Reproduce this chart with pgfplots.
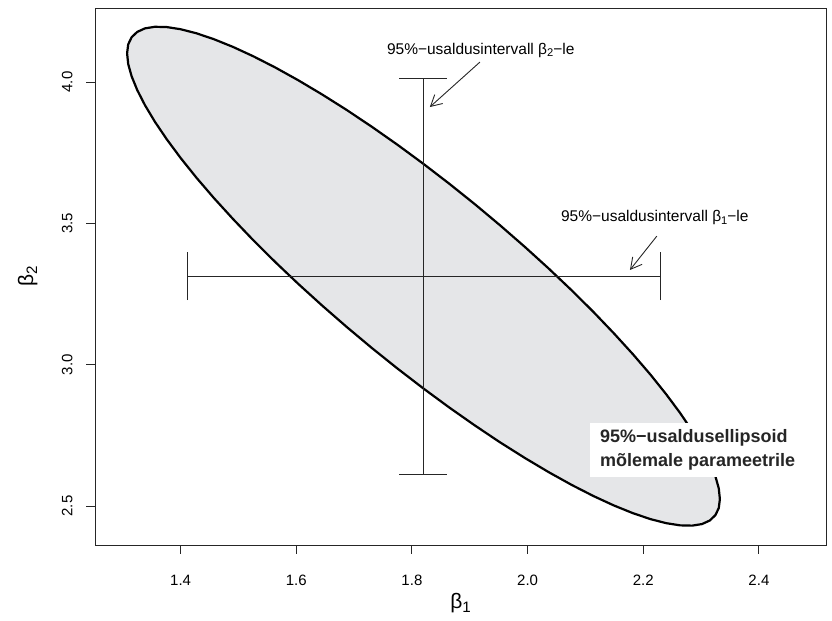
\documentclass[border=0pt]{standalone}
\usepackage{fontspec}
\setmainfont{Liberation Sans}
\usepackage{graphicx}
\usepackage{pgfplots}
\pgfplotsset{compat=1.18}
\usetikzlibrary{arrows.meta}
\definecolor{ellfill}{RGB}{229,230,232}
\newcommand\sub[1]{\raisebox{-0.35ex}{\scalebox{0.72}{#1}}}
\begin{document}
\begin{tikzpicture}
\useasboundingbox (0,0) rectangle (832bp,621bp);
\begin{axis}[
  at={(95bp,76bp)}, anchor=south west,
  scale only axis, width=731bp, height=537bp,
  xmin=1.252, xmax=2.516, ymin=2.362, ymax=4.262,
  xtick={1.4,1.6,1.8,2.0,2.2,2.4},
  xticklabels={1.4,1.6,1.8,2.0,2.2,2.4},
  ytick={2.5,3.0,3.5,4.0},
  yticklabels={2.5,3.0,3.5,4.0},
  tick align=outside, major tick length=9bp,
  xtick pos=left, ytick pos=left,
  axis line style={black!85, line width=0.9bp},
  every tick/.style={black!85, line width=0.9bp},
  tick label style={font=\fontsize{15bp}{17bp}\selectfont},
  xticklabel style={yshift=-18bp},
  yticklabel style={xshift=-10bp, rotate=90, anchor=south},
  xlabel={β\sub{1}},
  ylabel={β\sub{2}},
  label style={font=\fontsize{21bp}{24bp}\selectfont},
  xlabel style={at={(axis description cs:0.5,-0.108)}, anchor=center},
  ylabel style={at={(axis description cs:-0.092,0.5)}, anchor=center},
  clip=false,
]
\addplot[draw=black, line width=2.2bp, fill=ellfill] coordinates {
(2.3325,2.5245) (2.3306,2.5622) (2.3247,2.6055) (2.3150,2.6542)
(2.3016,2.7079) (2.2845,2.7663) (2.2638,2.8289) (2.2398,2.8950)
(2.2126,2.9645) (2.1824,3.0364) (2.1494,3.1105) (2.1140,3.1863)
(2.0763,3.2629) (2.0366,3.3400) (1.9953,3.4167) (1.9526,3.4928)
(1.9090,3.5675) (1.8647,3.6401) (1.8200,3.7104) (1.7753,3.7777)
(1.7310,3.8413) (1.6874,3.9010) (1.6447,3.9561) (1.6034,4.0064)
(1.5637,4.0515) (1.5260,4.0909) (1.4906,4.1243) (1.4576,4.1516)
(1.4274,4.1725) (1.4002,4.1868) (1.3762,4.1945) (1.3555,4.1955)
(1.3384,4.1899) (1.3250,4.1774) (1.3153,4.1585) (1.3094,4.1332)
(1.3075,4.1015) (1.3094,4.0638) (1.3153,4.0205) (1.3250,3.9718)
(1.3384,3.9181) (1.3555,3.8597) (1.3762,3.7971) (1.4002,3.7310)
(1.4274,3.6615) (1.4576,3.5896) (1.4906,3.5155) (1.5260,3.4397)
(1.5637,3.3631) (1.6034,3.2860) (1.6447,3.2093) (1.6874,3.1332)
(1.7310,3.0585) (1.7753,2.9859) (1.8200,2.9156) (1.8647,2.8483)
(1.9090,2.7847) (1.9526,2.7250) (1.9953,2.6699) (2.0366,2.6196)
(2.0763,2.5745) (2.1140,2.5351) (2.1494,2.5017) (2.1824,2.4744)
(2.2126,2.4535) (2.2398,2.4392) (2.2638,2.4315) (2.2845,2.4305)
(2.3016,2.4361) (2.3150,2.4486) (2.3247,2.4675) (2.3306,2.4928)
} -- cycle;
% CI for beta2 (vertical)
\addplot[black!85, line width=1bp] coordinates {(1.82,2.613) (1.82,4.014)};
\addplot[black!85, line width=1bp] coordinates {(1.7785,4.014) (1.8615,4.014)};
\addplot[black!85, line width=1bp] coordinates {(1.7785,2.613) (1.8615,2.613)};
% CI for beta1 (horizontal)
\addplot[black!85, line width=1bp] coordinates {(1.412,3.313) (2.229,3.313)};
\addplot[black!85, line width=1bp] coordinates {(1.412,3.228) (1.412,3.398)};
\addplot[black!85, line width=1bp] coordinates {(2.229,3.228) (2.229,3.398)};
% arrows
\addplot[black!85, line width=0.9bp, -{Straight Barb[length=11bp,width=12bp]}] coordinates {(1.9176,4.0707) (1.831,3.9116)};
\addplot[black!85, line width=0.9bp, -{Straight Barb[length=11bp,width=12bp]}] coordinates {(2.2235,3.455) (2.177,3.335)};
\node[font=\fontsize{15.5bp}{18bp}\selectfont, inner sep=0pt] at (axis cs:1.919,4.113) {95\%−usaldusintervall β\sub{2}−le};
\node[font=\fontsize{15.5bp}{18bp}\selectfont, inner sep=0pt] at (axis cs:2.220,3.519) {95\%−usaldusintervall β\sub{1}−le};
\node[fill=white, anchor=west, align=left, inner xsep=10bp, inner ysep=7bp,
      font=\fontsize{18bp}{23.5bp}\selectfont\bfseries, text=black!85] at (axis cs:2.1078,2.698)
  {95\%−usaldusellipsoid\\mõlemale parameetrile};
\end{axis}
\end{tikzpicture}
\end{document}
